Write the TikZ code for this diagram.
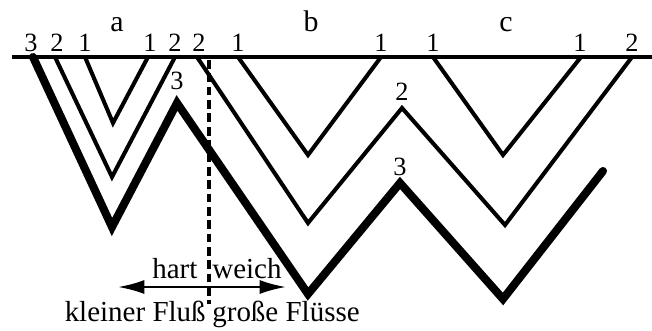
\documentclass[tikz,border=0pt]{standalone}
\usepackage{fontspec}
\setmainfont{Liberation Serif}
\usetikzlibrary{arrows.meta}

\begin{document}
\begin{tikzpicture}[x=0.02cm,y=-0.02cm,
  bed/.style={line width=2.3pt,line join=miter},
  bedthick/.style={line width=4.6pt,line join=miter,line cap=round},
  num/.style={font=\fontsize{15}{15}\selectfont,anchor=base,inner sep=0pt},
  sect/.style={font=\fontsize{17}{17}\selectfont,anchor=base,inner sep=0pt},
  txt/.style={font=\fontsize{16.5}{16.5}\selectfont,inner sep=0pt}]
  \useasboundingbox (0,0) rectangle (652,331);
  % surface
  \draw[line width=2.2pt] (12,57) -- (652,57);
  % beds 1
  \draw[bed] (85,57) -- (113,123) -- (148,57);
  \draw[bed] (238,57) -- (308,155) -- (381,57);
  \draw[bed] (433,57) -- (503,155) -- (581,57);
  % beds 2
  \draw[bed] (55,57) -- (112,177) -- (175,57);
  \draw[bed] (197,57) -- (308,223) -- (402,108) -- (505,225) -- (632,57);
  % bed 3
  \draw[bedthick] (33,57) -- (112,227) -- (177,103) -- (308,294) -- (400,183) -- (503,299) -- (603,171);
  % numbers at the surface
  \foreach \x/\n [count=\i] in {31/3,57/2,85/1,150/1,175/2,199/2,238/1,381/1,433/1,580/1,632/2}
    \node[num] (n\i) at (\x,52) {\n};
  \node[num] (p3a) at (177,90) {3};
  \node[num] (p2b) at (402,100) {2};
  \node[num] (p3b) at (400,175) {3};
  \node[sect] (a) at (117,32) {a};
  \node[sect] (b) at (311,32) {b};
  \node[sect] (c) at (506,32) {c};
  % hard / soft
  \draw[line width=1.8pt,dash pattern=on 5pt off 2.6pt] (209,60) -- (209,304);
  \coordinate (al) at (118,287);
  \coordinate (ar) at (286,287);
  \draw[line width=1.3pt,{Latex[length=15pt,width=8pt]}-{Latex[length=15pt,width=8pt]}] (al) -- (ar);
  \node[txt,anchor=base west] (hart) at (152,278) {hart};
  \node[txt,anchor=base west] (weich) at (212,278) {weich};
  \node[txt,anchor=base east] (klein) at (206,321) {kleiner Fluß};
  \node[txt,anchor=base west] (gross) at (212,321) {große Flüsse};
\end{tikzpicture}
\end{document}
